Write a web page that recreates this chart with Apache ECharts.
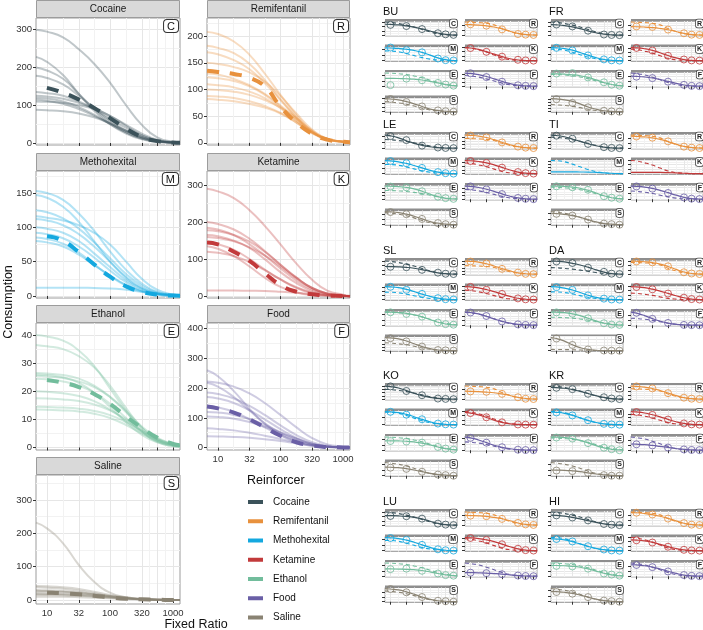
<!DOCTYPE html>
<html><head><meta charset="utf-8">
<script src="https://cdn.jsdelivr.net/npm/echarts@6/dist/echarts.min.js"></script>
<style>html,body{margin:0;padding:0;background:#fff}#c{width:703px;height:630px}</style>
</head><body><div id="c"></div>
<script>
// ================= DATA =================
const drugs = ['Cocaine','Remifentanil','Methohexital','Ketamine','Ethanol','Food','Saline'];
const drugLetters = ['C','R','M','K','E','F','S'];
const subjects = ['BU','FR','LE','TI','SL','DA','KO','KR','LU','HI'];
const fitFR = [6.7, 10, 18, 32, 56, 100, 180, 320, 560, 1000, 1290];
const pointFR = [10, 32, 100, 320, 560, 1000];
const xTickValues = [10, 32, 100, 320, 560, 1000];
const xLabelValues = [10, 32, 100, 320, 1000];
const xMinorValues = [17.9, 56.6, 179, 423, 748];

const cocaineTicks = [0, 100, 200, 300];
const remifentanilTicks = [0, 50, 100, 150, 200];
const methohexitalTicks = [0, 50, 100, 150];
const ketamineTicks = [0, 100, 200, 300];
const ethanolTicks = [0, 10, 20, 30, 40];
const foodTicks = [0, 100, 200, 300, 400];
const salineTicks = [0, 100, 200, 300];

// group mean fits (dashed), sampled at fitFR
const cocaineMean      = [150,146,133,115,93,66,38,16,5,1,0.5];
const remifentanilMean = [135,133,129,122,106,68,38,17,6,2,1];
const methohexitalMean = [88,87,80,64,46,28,14,6,2,0.5,0.3];
const ketamineMean     = [145,140,120,95,62,30,12,5,1.5,0.5,0.2];
const ethanolMean      = [24.3,24,23,21.5,19,15.5,11,7,3.5,1.3,0.8];
const foodMean         = [138,132,118,95,68,40,18,7,2,0.5,0.2];
const salineMean       = [23,22,20,17,13,8,4,2,0.7,0.2,0.1];

// individual fits, one per subject (order of `subjects`), sampled at fitFR
const cocaineFits = [
  [125,123,117,106,92,72,48,25,9,2,0],
  [120,118,110,95,75,50,28,12,4,1,0],
  [228,215,180,130,85,50,25,10,3,1,0],
  [178,172,155,125,92,60,33,15,5,1,0],
  [88,87,84,78,68,52,33,16,6,1,0],
  [300,295,280,248,210,160,100,48,15,3,1],
  [200,192,170,130,90,55,28,12,4,1,0],
  [135,132,125,110,90,65,40,20,7,2,0],
  [110,109,106,100,90,72,45,20,6,1,0],
  [115,112,104,90,72,52,32,15,5,1,0]];
const remifentanilFits = [
  [110,108,104,96,84,65,41,19,7,2,1],
  [88,87,84,78,69,56,38,18,6,2,1],
  [182,178,168,148,118,82,48,21,7,2,1],
  [123,121,116,106,90,68,42,19,7,2,1],
  [208,204,190,165,130,90,52,22,7,2,1],
  [150,148,142,132,115,88,55,25,8,2,1],
  [82,81,78,73,66,55,38,19,7,2,1],
  [170,166,155,138,112,80,47,20,7,2,1],
  [100,99,96,90,80,66,46,23,8,2,1],
  [130,128,120,108,92,70,45,20,7,2,1]];
const methohexitalFits = [
  [116,114,110,103,92,75,50,25,9,2,1],
  [100,98,92,80,62,42,23,10,3,1,0],
  [125,122,113,98,78,55,32,15,5,1,0],
  [12,12,12,12,11.5,11,9,6,3,1,0.5],
  [153,150,140,120,95,65,38,18,6,2,1],
  [147,143,130,108,80,50,26,11,4,1,0],
  [92,90,84,72,56,37,20,8,3,1,0],
  [85,83,76,63,46,29,15,6,2,0,0],
  [112,110,103,90,72,50,28,12,4,1,0],
  [80,78,72,60,45,30,16,7,2,0,0]];
const ketamineFits = [
  [145,140,125,100,72,45,22,8,2,0,0],
  [165,162,150,130,100,65,35,14,4,1,0],
  [178,175,165,147,120,85,50,22,7,2,0],
  [15,15,15,14.5,14,12,9,5,2,0.5,0],
  [200,195,180,155,122,85,50,22,7,2,0],
  [290,283,265,232,190,140,88,44,15,4,1],
  [135,128,108,80,50,25,10,3,1,0,0],
  [185,180,165,140,110,75,42,18,6,1,0],
  [160,157,148,132,110,80,48,22,7,2,0],
  [120,117,108,92,70,45,24,10,3,1,0]];
const ethanolFits = [
  [14.5,14.4,14.2,13.8,13,11.5,9,6,3,1.2,0.8],
  [25.5,25.3,24.7,23.5,21.5,18,13,7.5,3.5,1.2,0.7],
  [36.5,36,35,32.5,28.5,22,14,7,2.5,0.7,0.4],
  [26.5,26.3,25.8,24.5,22,18,12.5,7,3,1,0.6],
  [24.5,24.3,23.5,22,19.5,15.5,10.5,5.5,2.2,0.7,0.4],
  [40,39.5,38,34.5,29,21,13,6,2,0.5,0.3],
  [17.5,17.4,17.1,16.5,15.3,13.2,10,6,3,1.2,0.8],
  [26,25.8,25,23,19.5,14.5,9,4.5,1.8,0.5,0.3],
  [13.5,13.4,13.2,12.8,12,10.5,8,5,2.5,1,0.6],
  [20,19.8,19.3,18.3,16.5,13.5,9.5,5.5,2.5,0.8,0.5]];
const foodFits = [
  [170,165,150,125,95,62,33,13,4,1,0],
  [105,103,97,86,70,50,30,13,4,1,0],
  [185,180,165,140,110,75,42,18,6,1,0],
  [222,218,205,182,150,110,68,32,11,3,1],
  [140,135,120,95,68,42,22,9,3,1,0],
  [260,240,190,130,80,42,18,6,2,0.5,0],
  [218,205,170,125,82,48,24,9,3,1,0],
  [65,63,58,50,40,29,17,8,3,1,0],
  [38,37.5,36,33,28,22,14,7,2,0.5,0],
  [120,118,110,96,76,52,30,12,4,1,0]];
const salineFits = [
  [30,29,27,23,18,12,6,3,1,0,0],
  [42,41,38,33,25,15,8,3,1,0,0],
  [25,24.5,23,20,16,11,6,3,1,0,0],
  [20,19.5,18,16,13,9,5,2,1,0,0],
  [38,37,34,28,20,12,6,2,1,0,0],
  [232,215,170,105,55,22,8,3,1,0,0],
  [15,14.8,14,12.5,10,7,4,2,1,0,0],
  [10,9.8,9.5,8.5,7,5,3,1.5,0.5,0,0],
  [28,27,25,21,16,10,5,2,1,0,0],
  [18,17.5,16.5,14.5,11.5,8,4.5,2,0.7,0,0]];

// observed points per subject at pointFR
const cocainePoints = [
  [118,104,70,22,10,4],[122,100,52,8,3,1],[210,140,45,12,5,2],[170,128,58,14,4,1],[85,80,50,18,5,2],
  [290,255,150,55,12,3],[195,125,60,10,5,1],[130,115,62,22,8,2],[105,102,75,18,7,1],[112,88,55,14,6,1]];
const remifentanilPoints = [
  [112,98,60,12,6,3],[90,85,58,20,6,3],[175,150,80,22,8,2],[120,108,70,16,6,2],[200,170,85,25,6,2],
  [145,135,90,22,8,2],[80,76,55,20,5,2],[165,140,78,20,7,2],[98,92,65,24,8,3],[128,110,68,22,6,2]];
const methohexitalPoints = [
  [118,95,75,20,5,2],[98,78,40,10,3,1],[120,100,55,15,5,1],null,[150,115,68,18,6,2],
  [140,110,48,12,3,1],[90,70,38,8,3,1],[82,62,30,6,2,0],[108,92,50,12,4,1],[78,62,30,8,2,0]];
const ketaminePoints = [
  [140,98,45,10,3,1],[160,128,62,15,4,1],[172,145,82,22,8,2],null,[195,150,88,20,6,2],
  [280,230,135,45,14,4],[128,82,26,3,1,0],[178,138,72,18,5,1],[155,130,78,24,7,2],[115,90,44,10,3,1]];
const ethanolPoints = [
  [2,14,11,6,3,1],[26,27,18,8,3,1],[35,33,22,7,3,1],[26,24,19,6,3,1],[24,21,16,5,2,1],
  [39,35,21,6,2,1],[17,16,14,6,3,1],[25,23,14,5,2,0],[13,14,10,5,2,1],[19,18,14,5,3,1]];
const foodPoints = [
  [168,118,58,12,4,1],[100,85,48,14,4,1],[180,138,72,18,6,1],[215,178,105,30,10,3],[135,98,40,9,3,1],
  [245,125,45,6,2,0],[205,125,50,9,3,1],[62,50,28,8,3,1],[37,32,21,7,2,0],[118,95,50,12,4,1]];
const salinePoints = [
  [29,22,12,3,1,0],[40,28,14,3,1,0],[24,20,11,3,1,0],[19,16,9,2,1,0],[36,27,12,2,1,0],
  [215,102,22,3,1,0],[14,12,7,2,1,0],[9,8,5,1,0,0],[27,20,10,2,1,0],[17,14,8,2,1,0]];

// ================= STYLE / LAYOUT =================
const colors = ['#3b525a','#e8913d','#14a8df','#c23a3b','#72bd9c','#6a5fa6','#8a8373'];
const meansByDrug = [cocaineMean, remifentanilMean, methohexitalMean, ketamineMean, ethanolMean, foodMean, salineMean];
const fitsByDrug = [cocaineFits, remifentanilFits, methohexitalFits, ketamineFits, ethanolFits, foodFits, salineFits];
const pointsByDrug = [cocainePoints, remifentanilPoints, methohexitalPoints, ketaminePoints, ethanolPoints, foodPoints, salinePoints];
const ticksByDrug = [cocaineTicks, remifentanilTicks, methohexitalTicks, ketamineTicks, ethanolTicks, foodTicks, salineTicks];
const bigYRange = [[-5.3,331],[-4,234],[-3,182],[-5,338],[-0.9,44.3],[-8,419],[-12,375]];
const bigCol = [{left:36,width:144},{left:207,width:143}];
const bigStripTop = [0,153,305,457];
const FONT = '"Liberation Sans", Arial, Helvetica, sans-serif';
const XMIN = Math.log10(6.7), XMAX = Math.log10(1290);
const L = Math.log10;

const grids=[], xAxes=[], yAxes=[], series=[], graphics=[];

function addPanel(o){
  const gi = grids.length;
  grids.push({left:o.left, top:o.top, width:o.width, height:o.height, show:true,
    borderColor:o.border, borderWidth:1, backgroundColor:'#fff', containLabel:false});
  const xi = xAxes.length;
  xAxes.push({gridIndex:gi, type:'value', min:XMIN, max:XMAX, position:'bottom',
    axisLine:{show:false},
    axisTick:{show:o.xTicks, length:3, lineStyle:{color:'#333',width:1}, customValues:xTickValues.map(L)},
    axisLabel:{show:o.xLabels, customValues:xLabelValues.map(L), formatter:v=>String(Math.round(Math.pow(10,v))),
      fontSize:9.5, color:'#333', margin:4, fontFamily:FONT},
    splitLine:{show:true, lineStyle:{color:o.gridMajor, width:1}}});
  xAxes.push({gridIndex:gi, type:'value', min:XMIN, max:XMAX, position:'top',
    axisLine:{show:false}, axisTick:{show:false, customValues:xMinorValues.map(L)}, axisLabel:{show:false},
    splitLine:{show:o.minorX, lineStyle:{color:o.gridMinor, width:1}}});
  const yi = yAxes.length;
  yAxes.push({gridIndex:gi, type:'value', min:o.ymin, max:o.ymax, position:'left',
    axisLine:{show:false},
    axisTick:{show:true, length:3, lineStyle:{color:'#333',width:1}, customValues:o.yTicks},
    axisLabel:{show:o.yLabels, customValues:o.yTicks, fontSize:9.5, color:'#333', margin:4, fontFamily:FONT},
    splitLine:{show:true, lineStyle:{color:o.gridMajor, width:1}}});
  yAxes.push({gridIndex:gi, type:'value', min:o.ymin, max:o.ymax, position:'right',
    axisLine:{show:false}, axisTick:{show:false, customValues:o.yMinor}, axisLabel:{show:false},
    splitLine:{show:true, lineStyle:{color:o.gridMinor, width:1}}});
  return {xi, yi};
}

function fitData(arr){ return fitFR.map((x,i)=>[L(x), arr[i]]); }

// ---------- big facet panels ----------
const bigPos = [[0,0],[1,0],[0,1],[1,1],[0,2],[1,2],[0,3]];
drugs.forEach((d, di) => {
  const [c, r] = bigPos[di];
  const col = bigCol[c];
  const stripTop = bigStripTop[r];
  const top = stripTop + 18;
  const height = r === 3 ? 129 : 127;
  const ticks = ticksByDrug[di];
  const minor = ticks.slice(0,-1).map((t,i)=>(t+ticks[i+1])/2).concat([ticks[ticks.length-1]+(ticks[1]-ticks[0])/2]);
  const ax = addPanel({left:col.left, top, width:col.width, height, ymin:bigYRange[di][0], ymax:bigYRange[di][1],
    yTicks:ticks, yMinor:minor, yLabels:true, xTicks:true, xLabels:(di===5||di===6), minorX:true,
    border:'#9c9c9c', gridMajor:'#e6e6e6', gridMinor:'#f2f2f2'});
  fitsByDrug[di].forEach(f => {
    if (!f) return;
    series.push({type:'line', xAxisIndex:ax.xi, yAxisIndex:ax.yi, data:fitData(f), smooth:0.5,
      showSymbol:false, silent:true, z:2, lineStyle:{color:colors[di], width:2, opacity:0.32}});
  });
  series.push({type:'line', name:d, xAxisIndex:ax.xi, yAxisIndex:ax.yi, data:fitData(meansByDrug[di]), smooth:0.5,
    showSymbol:false, silent:true, z:4, lineStyle:{color:colors[di], width:4, type:[12,11], dashOffset:(c===0?12:0)}});
  // strip
  graphics.push({type:'rect', shape:{x:col.left+0.5, y:stripTop+0.5, width:col.width-1, height:17},
    style:{fill:'#d9d9d9', stroke:'#9c9c9c', lineWidth:1}, silent:true});
  graphics.push({type:'text', x:col.left+col.width/2, y:stripTop+9.5,
    style:{text:d, font:'10px '+FONT, fill:'#1a1a1a', align:'center', verticalAlign:'middle'}, silent:true});
  // letter box
  graphics.push({type:'text', x:col.left+col.width-2, y:top+2, z:10,
    style:{text:drugLetters[di], font:'11px '+FONT, fill:'#111', align:'right', verticalAlign:'top',
      backgroundColor:'#fff', borderColor:'#333', borderWidth:1, borderRadius:3, padding:[1,3,0,3]}, silent:true});
});

// ---------- subject mini panels ----------
const blockLabelY = [12, 125, 251, 376, 502];
const sideX = [385, 551];
const miniColOff = [0, 80];
const miniPos = [[0,0],[1,0],[0,1],[1,1],[0,2],[1,2],[0,3]];
function niceStep(m){ const raw=m/3; const p=Math.pow(10,Math.floor(Math.log10(raw))); const n=raw/p;
  return (n<1.5?1:n<3?2:n<7?5:10)*p; }
subjects.forEach((s, si) => {
  const b = Math.floor(si/2), side = si%2;
  const ly = blockLabelY[b];
  graphics.push({type:'text', x:sideX[side]-2, y:ly, style:{text:s, font:'11px '+FONT, fill:'#111',
    align:'left', verticalAlign:'middle'}, silent:true});
  drugs.forEach((d, di) => {
    const [c, r] = miniPos[di];
    const left = sideX[side] + miniColOff[c];
    const rowTop = ly + 7 + r*25.5;
    const fit = fitsByDrug[di][si], pts = pointsByDrug[di][si], mean = meansByDrug[di];
    const m = Math.max(...mean, ...(fit||[0]), ...(pts||[0]));
    const step = niceStep(m);
    const yt = []; for (let v=0; v<=m*1.05; v+=step) yt.push(v);
    const ax = addPanel({left, top:rowTop+2, width:72, height:15, ymin:-0.06*m, ymax:1.08*m,
      yTicks:yt, yMinor:yt.map(v=>v+step/2), yLabels:false, xTicks:(di===5||di===6), xLabels:false, minorX:true,
      border:'#a8a8a8', gridMajor:'#e6e6e6', gridMinor:'#f2f2f2'});
    series.push({type:'line', xAxisIndex:ax.xi, yAxisIndex:ax.yi, data:fitData(mean), smooth:0.5,
      showSymbol:false, silent:true, z:3, lineStyle:{color:colors[di], width:1.1, type:[4,3]}});
    if (fit) series.push({type:'line', xAxisIndex:ax.xi, yAxisIndex:ax.yi, data:fitData(fit), smooth:0.5,
      showSymbol:false, silent:true, z:3, lineStyle:{color:colors[di], width:1.2}});
    if (pts) series.push({type:'scatter', xAxisIndex:ax.xi, yAxisIndex:ax.yi, data:pointFR.map((x,i)=>[L(x), pts[i]]),
      symbol:'circle', symbolSize:7, silent:true, z:4, clip:false,
      itemStyle:{color:'rgba(255,255,255,0)', borderColor:colors[di], borderWidth:1}});
    graphics.push({type:'rect', shape:{x:left, y:rowTop, width:72, height:2.5}, style:{fill:'#8e8e8e'}, silent:true});
    graphics.push({type:'text', x:left+72, y:rowTop+0.5, z:10,
      style:{text:drugLetters[di], font:'bold 7px '+FONT, fill:'#222', align:'right', verticalAlign:'top',
        backgroundColor:'#fff', borderColor:'#444', borderWidth:0.8, borderRadius:2, padding:[1,1,0,1]}, silent:true});
  });
});

// ---------- axis titles & legend ----------
graphics.push({type:'text', x:9, y:302, rotation:Math.PI/2, style:{text:'Consumption', font:'12.5px '+FONT,
  fill:'#111', align:'center', verticalAlign:'middle'}, silent:true});
graphics.push({type:'text', x:196, y:625, style:{text:'Fixed Ratio', font:'12.5px '+FONT,
  fill:'#111', align:'center', verticalAlign:'middle'}, silent:true});
graphics.push({type:'text', x:247, y:481, style:{text:'Reinforcer', font:'12.5px '+FONT,
  fill:'#111', align:'left', verticalAlign:'middle'}, silent:true});
drugs.forEach((d, di) => {
  const y = 502 + di*19.25;
  graphics.push({type:'rect', shape:{x:248, y:y-2, width:15, height:4}, style:{fill:colors[di]}, silent:true});
  graphics.push({type:'text', x:273, y:y, style:{text:d, font:'10px '+FONT, fill:'#111', align:'left',
    verticalAlign:'middle'}, silent:true});
});

const chart = echarts.init(document.getElementById('c'), null, {renderer:'canvas'});
chart.setOption({animation:false, backgroundColor:'#fff', textStyle:{fontFamily:FONT},
  grid:grids, xAxis:xAxes, yAxis:yAxes, series, graphic:graphics});
</script></body></html>
